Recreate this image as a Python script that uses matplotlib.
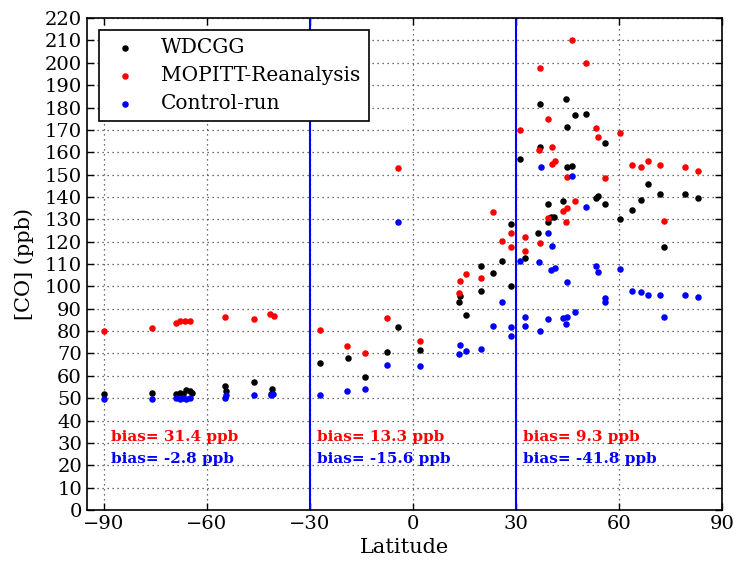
import matplotlib
matplotlib.use("Agg")
import matplotlib.pyplot as plt
import numpy as np

plt.rcParams['font.family'] = ['DejaVu Serif']
plt.rcParams['xtick.direction'] = 'in'
plt.rcParams['ytick.direction'] = 'in'
plt.rcParams['xtick.top'] = True
plt.rcParams['ytick.right'] = True
plt.rcParams['mathtext.fontset'] = 'dejavuserif'

# WDCGG observations
wd_lat = [-90, -76, -69, -68, -67, -66, -65, -64.5, -54.7, -54.6, -46.4, -41.3, -41.0,
          -27, -19, -14, -7.7, -4.5, 1.9, 13.4, 13.7, 15.3, 19.9, 19.9, 23.4, 26.0,
          28.5, 28.6, 31.2, 32.7, 36.5, 37.0, 37.1, 39.2, 39.2, 40.2, 41.2, 43.6,
          44.5, 44.8, 44.8, 46.3, 47.3, 50.4, 53.2, 53.8, 55.8, 55.8, 60.4, 63.8,
          66.4, 68.4, 71.8, 73.1, 79.3, 83.0]
wd_co = [52, 52.5, 52, 52.5, 52, 53.5, 53, 52.5, 55.5, 53.4, 57.4, 52, 54,
         65.6, 68.1, 59.4, 70.8, 82.0, 71.6, 92.8, 95.9, 87.2, 109.2, 98.0, 106.2, 111.4,
         128.0, 100.2, 156.9, 112.6, 123.8, 181.5, 162.3, 136.9, 128.7, 131.0, 131.0, 138.3,
         184.0, 171.2, 153.6, 154.0, 176.7, 177.2, 139.7, 140.5, 164.1, 136.9, 130.2, 134.2,
         138.7, 145.7, 141.4, 117.4, 141.3, 139.7]

# MOPITT reanalysis
mo_lat = [-90, -76, -69, -67.9, -66.4, -64.9, -54.7, -46.4, -41.6, -40.6,
          -27, -19.1, -14.1, -7.7, -4.5, 1.9, 13.4, 13.7, 15.3, 19.9, 23.4, 26.0,
          28.5, 28.6, 31.2, 32.6, 32.7, 36.6, 37.0, 37.0, 39.2, 39.2, 40.4, 40.4,
          41.3, 43.6, 44.5, 44.8, 44.8, 46.3, 47.3, 50.4, 53.2, 53.8, 55.8, 60.4,
          63.8, 66.4, 68.4, 71.8, 73.1, 79.3, 83.0]
mo_co = [80.2, 81.3, 83.5, 84.3, 84.7, 84.7, 86.2, 85.5, 87.7, 86.9,
         80.5, 73.5, 70.1, 86.0, 152.9, 75.6, 97.0, 102.5, 105.6, 103.9, 133.3, 120.4,
         124.1, 117.8, 170.0, 122.0, 115.9, 160.8, 197.6, 119.6, 174.8, 130.5, 162.3, 154.8,
         155.9, 133.9, 129.0, 135.0, 148.9, 210.0, 138.4, 200.1, 170.8, 166.6, 148.7, 168.8,
         154.1, 153.2, 156.2, 154.1, 129.3, 153.2, 151.8]

# Control run
cr_lat = [-90, -76, -69, -68, -67, -66, -65, -54.7, -54.6, -46.4, -41.3, -40.8,
          -27, -19.1, -14.1, -7.7, -4.5, 1.9, 13.4, 13.7, 15.3, 19.9, 23.4, 26.0,
          28.5, 28.6, 31.2, 32.6, 32.7, 36.6, 37.0, 37.3, 39.2, 39.2, 40.4, 40.2,
          41.3, 44.8, 43.6, 44.8, 44.5, 46.3, 47.3, 50.4, 53.2, 53.8, 55.8, 55.8,
          60.4, 63.8, 66.4, 68.4, 71.8, 73.1, 79.3, 83.0]
cr_co = [49.7, 49.6, 50, 49.8, 50, 49.8, 50, 50.3, 51.3, 51.3, 51.5, 52,
         51.5, 53.2, 54.1, 64.9, 128.7, 64.6, 69.8, 73.8, 71.1, 72.0, 82.5, 92.8,
         81.7, 78.0, 111.4, 86.2, 82.5, 111.1, 80.1, 153.6, 123.8, 85.3, 118.1, 107.4,
         108.4, 102.1, 85.8, 86.2, 83.2, 149.6, 88.5, 135.7, 109.3, 106.3, 94.7, 92.8,
         107.7, 98.0, 97.4, 96.2, 96.2, 86.5, 96.2, 95.4]

region_x = [-88, -28, 32]
bias_mo = [31.4, 13.3, 9.3]
bias_cr = [-2.8, -15.6, -41.8]

fig = plt.figure(figsize=(7.36, 5.66), dpi=100)
ax = fig.add_axes([0.118, 0.099, 0.863, 0.869])

ax.scatter(wd_lat, wd_co, s=22, c='black', linewidths=0, label='WDCGG', zorder=3)
ax.scatter(mo_lat, mo_co, s=22, c='red', linewidths=0, label='MOPITT-Reanalysis', zorder=3)
ax.scatter(cr_lat, cr_co, s=22, c='blue', linewidths=0, label='Control-run', zorder=3)

ax.axvline(-30, color='blue', lw=1.5)
ax.axvline(30, color='blue', lw=1.5)

for x, bm, bc in zip(region_x, bias_mo, bias_cr):
    ax.text(x, 31, f'bias= {bm} ppb', color='red', fontsize=11, fontweight='bold')
    ax.text(x, 21, f'bias= {bc} ppb', color='blue', fontsize=11, fontweight='bold')

ax.set_xlim(-95, 90)
ax.set_ylim(0, 220)
ax.set_xticks(np.arange(-90, 91, 30))
ax.set_yticks(np.arange(0, 221, 10))
ax.tick_params(labelsize=14, length=5, width=1)
ax.grid(True, linestyle=(0, (1, 3)), color='0.25', lw=0.9)
for s in ax.spines.values():
    s.set_linewidth(1.2)

ax.set_xlabel('Latitude', fontsize=15)
ax.set_ylabel('[CO] (ppb)', fontsize=15, labelpad=8)

leg = ax.legend(loc='upper left', scatterpoints=1, fontsize=14.5, fancybox=False,
                framealpha=1, edgecolor='black', borderaxespad=0.6, handletextpad=0.9,
                handlelength=1.8, labelspacing=0.45)
leg.get_frame().set_linewidth(1.2)

fig.savefig('out.png', dpi=100)
